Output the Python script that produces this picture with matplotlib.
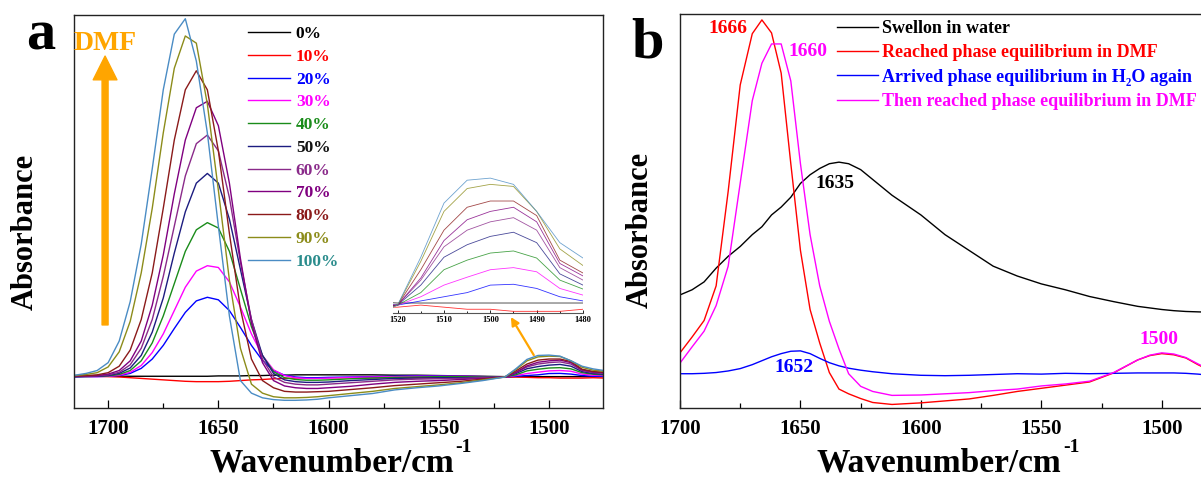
import matplotlib
matplotlib.use("Agg")
import matplotlib.pyplot as plt
from matplotlib.ticker import MultipleLocator

plt.rcParams['font.family'] = ['Liberation Serif', 'DejaVu Serif']
plt.rcParams['font.weight'] = 'bold'

# ---- panel a: DMF content series ----
wn_a = [1715, 1710, 1705, 1700, 1695, 1690, 1685, 1680, 1675, 1670,
        1665, 1660, 1655, 1650, 1645, 1640, 1635, 1630, 1625, 1620,
        1615, 1610, 1605, 1600, 1590, 1580, 1570, 1560, 1550, 1540,
        1530, 1520, 1515, 1510, 1505, 1500, 1495, 1490, 1485, 1480, 1475]

abs_0 = [0.003, 0.003, 0.003, 0.002, 0.002, 0.002, 0.002, 0.002, 0.002, 0.002,
         0.002, 0.002, 0.002, 0.003, 0.003, 0.003, 0.004, 0.004, 0.005, 0.005,
         0.006, 0.006, 0.006, 0.006, 0.006, 0.006, 0.005, 0.005, 0.004, 0.003,
         0.002, 0.001, 0.001, 0.001, 0.001, 0.001, 0.001, 0.001, 0.001, 0.001, 0.001]
abs_10 = [0.003, 0.003, 0.002, 0.001, 0.0, -0.002, -0.004, -0.006, -0.008, -0.01,
          -0.012, -0.013, -0.013, -0.013, -0.012, -0.01, -0.008, -0.007, -0.005, -0.004,
          -0.003, -0.002, -0.002, -0.002, -0.002, -0.002, -0.002, -0.002, -0.002, -0.002,
          -0.001, -0.001, 0.0, -0.001, -0.002, -0.002, -0.003, -0.003, -0.003, -0.002, -0.003]
abs_20 = [0.0, 0.001, 0.001, 0.002, 0.004, 0.01, 0.024, 0.05, 0.088, 0.135,
          0.18, 0.212, 0.222, 0.215, 0.185, 0.138, 0.088, 0.046, 0.018, 0.005,
          0.0, -0.002, -0.002, -0.001, 0.0, 0.001, 0.002, 0.003, 0.003, 0.002,
          0.001, 0.0, 0.002, 0.004, 0.006, 0.0096, 0.010, 0.008, 0.004, 0.002, 0.002]
abs_30 = [0.001, 0.001, 0.001, 0.002, 0.005, 0.013, 0.032, 0.068, 0.12, 0.185,
          0.25, 0.295, 0.31, 0.305, 0.265, 0.195, 0.12, 0.06, 0.02, 0.004,
          -0.002, -0.004, -0.004, -0.003, -0.001, 0.0, 0.001, 0.002, 0.002, 0.002,
          0.001, 0.0, 0.004, 0.0096, 0.0134, 0.017, 0.018, 0.016, 0.008, 0.0048, 0.004]
abs_40 = [0.001, 0.001, 0.002, 0.003, 0.007, 0.018, 0.045, 0.095, 0.17, 0.26,
          0.35, 0.41, 0.43, 0.415, 0.35, 0.245, 0.14, 0.06, 0.015, -0.002,
          -0.007, -0.009, -0.009, -0.008, -0.005, -0.003, -0.001, 0.0, 0.001, 0.001,
          0.0, 0.0, 0.006, 0.017, 0.0216, 0.025, 0.026, 0.0226, 0.012, 0.0077, 0.006]
abs_50 = [0.001, 0.002, 0.002, 0.004, 0.01, 0.025, 0.06, 0.125, 0.22, 0.345,
          0.46, 0.54, 0.567, 0.54, 0.44, 0.30, 0.16, 0.06, 0.01, -0.008,
          -0.013, -0.015, -0.015, -0.014, -0.01, -0.007, -0.004, -0.003, -0.002, -0.002,
          -0.001, 0.0, 0.0096, 0.023, 0.029, 0.033, 0.035, 0.030, 0.015, 0.0096, 0.008]
abs_60 = [0.002, 0.002, 0.003, 0.006, 0.013, 0.034, 0.08, 0.16, 0.28, 0.42,
          0.56, 0.65, 0.674, 0.63, 0.50, 0.32, 0.16, 0.05, 0.0, -0.015,
          -0.02, -0.022, -0.022, -0.02, -0.016, -0.012, -0.008, -0.006, -0.005, -0.004,
          -0.002, 0.0, 0.012, 0.028, 0.036, 0.040, 0.042, 0.036, 0.018, 0.012, 0.010]
abs_70 = [0.002, 0.003, 0.004, 0.008, 0.018, 0.045, 0.10, 0.20, 0.34, 0.51,
          0.66, 0.75, 0.768, 0.70, 0.54, 0.33, 0.15, 0.04, -0.01, -0.025,
          -0.03, -0.032, -0.032, -0.03, -0.026, -0.02, -0.015, -0.012, -0.01, -0.007,
          -0.004, 0.0, 0.013, 0.031, 0.041, 0.045, 0.047, 0.040, 0.020, 0.014, 0.012]
abs_80 = [0.003, 0.004, 0.006, 0.012, 0.03, 0.075, 0.16, 0.29, 0.47, 0.66,
          0.80, 0.853, 0.80, 0.63, 0.40, 0.19, 0.05, -0.01, -0.03, -0.04,
          -0.042, -0.042, -0.041, -0.04, -0.035, -0.03, -0.024, -0.02, -0.016, -0.012,
          -0.006, 0.0, 0.017, 0.036, 0.047, 0.050, 0.050, 0.043, 0.0216, 0.0154, 0.013]
abs_90 = [0.004, 0.007, 0.012, 0.028, 0.07, 0.155, 0.29, 0.47, 0.68, 0.86,
          0.95, 0.93, 0.76, 0.52, 0.27, 0.08, -0.02, -0.045, -0.055, -0.058,
          -0.058, -0.057, -0.055, -0.052, -0.046, -0.040, -0.032, -0.027, -0.022, -0.016,
          -0.008, 0.0, 0.021, 0.045, 0.056, 0.058, 0.057, 0.045, 0.027, 0.019, 0.016]
abs_100 = [0.005, 0.01, 0.018, 0.04, 0.10, 0.21, 0.37, 0.58, 0.80, 0.955,
           0.998, 0.88, 0.68, 0.42, 0.17, -0.01, -0.045, -0.058, -0.063, -0.065,
           -0.065, -0.064, -0.062, -0.058, -0.052, -0.046, -0.036, -0.030, -0.025, -0.018,
           -0.01, 0.0, 0.023, 0.049, 0.060, 0.061, 0.058, 0.045, 0.030, 0.0226, 0.018]

labels_a = ['0%', '10%', '20%', '30%', '40%', '50%', '60%', '70%', '80%', '90%', '100%']
series_a = [abs_0, abs_10, abs_20, abs_30, abs_40, abs_50, abs_60, abs_70, abs_80, abs_90, abs_100]
colors_a = ['#000000', '#ff0000', '#0000ff', '#ff00ff', '#1a8c1a', '#1c1c80',
            '#8a2a8a', '#800080', '#8b1a1a', '#8c8c1a', '#4a8cc4']
text_colors_a = ['#000000', '#ff0000', '#0000ff', '#ff00ff', '#1a8c1a', '#111111',
                 '#8a2a8a', '#800080', '#8b1a1a', '#8c8c1a', '#2a8c8c']

# ---- panel b: swelling cycle ----
wn_b = [1700, 1695, 1690, 1685, 1680, 1675, 1670, 1666, 1662, 1658,
        1654, 1650, 1646, 1642, 1638, 1634, 1630, 1625, 1620, 1612,
        1600, 1590, 1580, 1570, 1560, 1550, 1540, 1530, 1520, 1510,
        1505, 1500, 1495, 1490, 1485, 1480, 1475]
water = [0.287, 0.30, 0.32, 0.355, 0.385, 0.41, 0.44, 0.46, 0.49, 0.51,
         0.535, 0.57, 0.592, 0.608, 0.62, 0.624, 0.62, 0.605, 0.58, 0.54,
         0.49, 0.44, 0.40, 0.36, 0.335, 0.315, 0.30, 0.283, 0.27, 0.258,
         0.254, 0.25, 0.247, 0.245, 0.244, 0.243, 0.243]
dmf_1 = [0.140, 0.180, 0.222, 0.31, 0.55, 0.82, 0.95, 0.985, 0.952, 0.85,
         0.62, 0.40, 0.25, 0.165, 0.09, 0.048, 0.036, 0.024, 0.014, 0.009,
         0.013, 0.018, 0.023, 0.032, 0.042, 0.05, 0.058, 0.066, 0.089, 0.122,
         0.133, 0.138, 0.135, 0.127, 0.11, 0.095, 0.085]
water_2 = [0.087, 0.087, 0.088, 0.09, 0.094, 0.10, 0.11, 0.12, 0.13, 0.138,
           0.144, 0.145, 0.138, 0.126, 0.115, 0.107, 0.101, 0.096, 0.092, 0.087,
           0.083, 0.082, 0.083, 0.085, 0.087, 0.086, 0.088, 0.087, 0.088, 0.089,
           0.089, 0.089, 0.089, 0.088, 0.086, 0.083, 0.081]
dmf_2 = [0.114, 0.155, 0.195, 0.26, 0.36, 0.571, 0.78, 0.875, 0.924, 0.924,
         0.83, 0.62, 0.44, 0.31, 0.22, 0.15, 0.087, 0.055, 0.042, 0.032,
         0.033, 0.036, 0.039, 0.044, 0.048, 0.056, 0.061, 0.068, 0.09, 0.122,
         0.134, 0.140, 0.137, 0.128, 0.112, 0.097, 0.087]
labels_b = ['Swellon in water', 'Reached phase equilibrium in DMF',
            'Arrived phase equilibrium in H\u2082O again', 'Then reached phase equilibrium in DMF']
series_b = [water, dmf_1, water_2, dmf_2]
colors_b = ['#000000', '#ff0000', '#0000ff', '#ff00ff']

W, H = 1201, 488
fig = plt.figure(figsize=(W / 100, H / 100), dpi=100)


def px_axes(left, top, right, bottom):
    return fig.add_axes([left / W, 1 - bottom / H, (right - left) / W, (bottom - top) / H])


def style_axes(ax):
    for s in ax.spines.values():
        s.set_linewidth(1.0)
        s.set_color('#222222')
    ax.xaxis.set_major_locator(MultipleLocator(50))
    ax.xaxis.set_minor_locator(MultipleLocator(25))
    ax.tick_params(axis='x', which='major', direction='in', length=6, width=0.9,
                   labelsize=15, pad=8, top=False)
    ax.tick_params(axis='x', which='minor', direction='in', length=3.5, width=0.9, top=False)
    ax.set_yticks([])


# panel a
ax1 = px_axes(74, 15, 603, 408)
for y, c, lab in zip(series_a, colors_a, labels_a):
    ax1.plot(wn_a, y, color=c, lw=1.0, label=lab)
ax1.set_xlim(1715.5, 1475.5)
ax1.set_ylim(-0.0864, 1.0084)
style_axes(ax1)
leg = ax1.legend(loc='upper left', bbox_to_anchor=(0.329, 0.972), frameon=False,
                 fontsize=12.5, handlelength=2.4, handletextpad=0.35,
                 labelspacing=0.38, borderpad=0, borderaxespad=0)
for t, c in zip(leg.get_texts(), text_colors_a):
    t.set_color(c)

ax1.annotate('', xy=(1701.4, 0.894), xytext=(1701.4, 0.145),
             arrowprops=dict(arrowstyle='simple,head_length=0.95,head_width=0.95,tail_width=0.24',
                             color='#ffa500', mutation_scale=18, shrinkA=0, shrinkB=0))
ax1.text(1701.4, 0.930, 'DMF', color='#ffa500', fontsize=20, ha='center', va='center')
ax1.annotate('', xy=(1517.3, 0.167), xytext=(1506.9, 0.061),
             arrowprops=dict(arrowstyle='-|>', color='#ffa500', lw=1.6,
                             mutation_scale=12, shrinkA=0, shrinkB=0))

# inset
axi = px_axes(393, 170, 583, 313)
for y, c in zip(series_a, colors_a):
    axi.plot(wn_a, y, color=c, lw=0.6, alpha=0.8)
axi.set_xlim(1521, 1480)
axi.set_ylim(-0.0038, 0.0649)
axi.patch.set_alpha(0)
for side in ['top', 'left', 'right']:
    axi.spines[side].set_visible(False)
axi.spines['bottom'].set_linewidth(0.8)
axi.spines['bottom'].set_color('#555555')
axi.xaxis.set_major_locator(MultipleLocator(10))
axi.xaxis.set_minor_locator(MultipleLocator(5))
axi.tick_params(axis='x', which='major', direction='in', length=2.5, width=0.6,
                labelsize=6, pad=2)
axi.tick_params(axis='x', which='minor', direction='in', length=1.5, width=0.6)
axi.set_yticks([])

# panel b
ax2 = px_axes(680, 14, 1222, 408)
for y, c, lab in zip(series_b, colors_b, labels_b):
    ax2.plot(wn_b, y, color=c, lw=1.0, label=lab)
ax2.set_xlim(1700, 1475)
ax2.set_ylim(0, 1)
style_axes(ax2)
leg2 = ax2.legend(loc='upper left', bbox_to_anchor=(0.29, 0.985), frameon=False,
                  fontsize=13, handlelength=2.28, handletextpad=0.22,
                  labelspacing=0.41, borderpad=0, borderaxespad=0)
for t, c in zip(leg2.get_texts(), colors_b):
    t.set_color(c)

ax2.text(1680.1, 0.964, '1666', color='#ff0000', fontsize=14, ha='center', va='center')
ax2.text(1646.9, 0.904, '1660', color='#ff00ff', fontsize=14, ha='center', va='center')
ax2.text(1635.7, 0.571, '1635', color='#000000', fontsize=14, ha='center', va='center')
ax2.text(1652.7, 0.102, '1652', color='#0000ff', fontsize=14, ha='center', va='center')
ax2.text(1501.2, 0.173, '1500', color='#ff00ff', fontsize=14, ha='center', va='center')

# figure labels
fig.text(41 / W, 1 - 50 / H, 'a', fontsize=42, ha='center', va='baseline')
fig.text(648 / W, 1 - 58 / H, 'b', fontsize=42, ha='center', va='baseline')
fig.text(25 / W, 1 - 232 / H, 'Absorbance', fontsize=22, rotation=90, ha='center', va='center')
fig.text(640 / W, 1 - 230 / H, 'Absorbance', fontsize=22, rotation=90, ha='center', va='center')

# x labels: main word plus a small raised "-1"
renderer = fig.canvas.get_renderer()
for x0 in (209, 817):
    t = fig.text(x0 / W, 1 - 472 / H, 'Wavenumber/cm', fontsize=24, ha='left', va='baseline')
    x1 = t.get_window_extent(renderer).x1
    fig.text(x1 / W + 1 / W, 1 - 452 / H, '-1', fontsize=14, ha='left', va='baseline')

fig.savefig('out.png', dpi=100)
